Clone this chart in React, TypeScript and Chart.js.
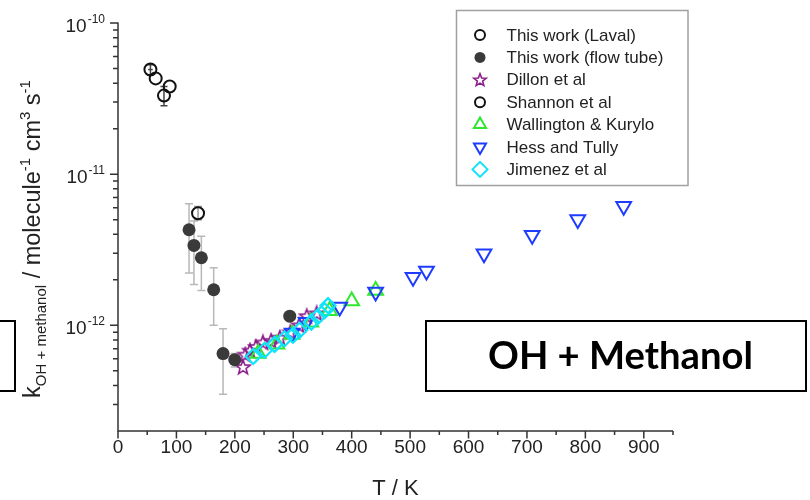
import React, { useEffect, useRef } from 'react';
import { Chart, registerables } from 'chart.js';

Chart.register(...registerables);

const FONT = '"Liberation Sans", Arial, sans-serif';

// ---------- Data ----------
const lavalT = [55.5, 64.5, 78.7, 88.5];
const lavalK = [4.92e-11, 4.3e-11, 3.31e-11, 3.8e-11];
const lavalLow = [4.55e-11, 4.3e-11, 2.84e-11, 3.8e-11];
const lavalHigh = [5.3e-11, 4.3e-11, 3.8e-11, 3.8e-11];
const lavalTErr = [4, 0, 0, 0];

const flowT = [121.6, 130, 142.7, 163.8, 179.8, 199.8, 294];
const flowK = [4.29e-12, 3.38e-12, 2.8e-12, 1.72e-12, 6.5e-13, 5.93e-13, 1.15e-12];
const flowLow = [2.22e-12, 1.86e-12, 1.7e-12, 1.0e-12, 3.5e-13, 5.3e-13, 1.15e-12];
const flowHigh = [6.37e-12, 4.9e-12, 3.89e-12, 2.4e-12, 9.5e-13, 6.5e-13, 1.15e-12];

const dillonT = [214, 218, 226, 236, 248, 262, 277, 295, 310, 323, 340];
const dillonK = [5.3e-13, 6.4e-13, 6.8e-13, 7.2e-13, 7.7e-13, 7.9e-13, 8.3e-13, 9.0e-13, 1.0e-12, 1.15e-12, 1.2e-12];

const shannonT = [137];
const shannonK = [5.52e-12];
const shannonLow = [5.0e-12];
const shannonHigh = [6.1e-12];

const wallT = [240, 272, 298, 330, 362, 400, 441];
const wallK = [6.5e-13, 7.5e-13, 8.7e-13, 1.05e-12, 1.25e-12, 1.45e-12, 1.7e-12];

const hessT = [298, 322, 379.5, 441, 505, 528, 626.5, 709, 787, 865.6];
const hessK = [8.9e-13, 1.05e-12, 1.32e-12, 1.66e-12, 2.08e-12, 2.29e-12, 2.98e-12, 3.94e-12, 5.02e-12, 6.14e-12];

const jimT = [231.6, 251, 268, 285, 299.6, 311, 331, 342, 353.8, 359.5];
const jimK = [6.23e-13, 6.84e-13, 7.48e-13, 8.16e-13, 8.59e-13, 9.27e-13, 1.05e-12, 1.14e-12, 1.25e-12, 1.35e-12];

// ---------- Axis ticks / labels ----------
const xMajorTicks = [0, 100, 200, 300, 400, 500, 600, 700, 800, 900];
const xMinorTicks = [50, 150, 250, 350, 450, 550, 650, 750, 850, 950];
const yMajorTicks = [1e-12, 1e-11, 1e-10];
const yTickExponents = ['-12', '-11', '-10'];
const yMinorTicks = [
  3e-13, 4e-13, 5e-13, 6e-13, 7e-13, 8e-13, 9e-13,
  2e-12, 3e-12, 4e-12, 5e-12, 6e-12, 7e-12, 8e-12, 9e-12,
  2e-11, 3e-11, 4e-11, 5e-11, 6e-11, 7e-11, 8e-11, 9e-11,
];
const xTitle = 'T / K';
const yTitleParts: { t: string; s: 'n' | 'sub' | 'sup' }[] = [
  { t: 'k', s: 'n' },
  { t: 'OH + methanol', s: 'sub' },
  { t: ' / molecule', s: 'n' },
  { t: '-1', s: 'sup' },
  { t: ' cm', s: 'n' },
  { t: '3', s: 'sup' },
  { t: ' s', s: 'n' },
  { t: '-1', s: 'sup' },
];
const boxLabel = 'OH + Methanol';

const legendLabels = [
  'This work (Laval)',
  'This work (flow tube)',
  'Dillon et al',
  'Shannon et al',
  'Wallington & Kurylo',
  'Hess and Tully',
  'Jimenez et al',
];

const C_BLACK = '#111111';
const C_FLOW = '#3a3a3a';
const C_PURPLE = '#8b1c8b';
const C_GREEN = '#2ee82e';
const C_BLUE = '#1e3cff';
const C_CYAN = '#10e4fa';

function makeStar(color: string, size = 18, outer = 7.5, inner = 3.2, lw = 1.6) {
  const c = document.createElement('canvas');
  c.width = size;
  c.height = size;
  const ctx = c.getContext('2d')!;
  starPath(ctx, size / 2, size / 2 + 0.5, outer, inner);
  ctx.strokeStyle = color;
  ctx.lineWidth = lw;
  ctx.stroke();
  return c;
}

function starPath(ctx: CanvasRenderingContext2D, cx: number, cy: number, outer: number, inner: number) {
  ctx.beginPath();
  for (let i = 0; i < 10; i++) {
    const r = i % 2 === 0 ? outer : inner;
    const a = -Math.PI / 2 + (i * Math.PI) / 5;
    const x = cx + r * Math.cos(a);
    const y = cy + r * Math.sin(a);
    if (i === 0) ctx.moveTo(x, y);
    else ctx.lineTo(x, y);
  }
  ctx.closePath();
}

function pts(xs: number[], ys: number[]) {
  return xs.map((x, i) => ({ x, y: ys[i] }));
}

function drawLegendMarker(ctx: CanvasRenderingContext2D, kind: string, x: number, y: number, color: string) {
  ctx.save();
  ctx.lineWidth = 2;
  ctx.strokeStyle = color;
  ctx.fillStyle = color;
  ctx.beginPath();
  if (kind === 'circle') {
    ctx.arc(x, y, 5, 0, Math.PI * 2);
    ctx.stroke();
  } else if (kind === 'fcircle') {
    ctx.arc(x, y, 5.5, 0, Math.PI * 2);
    ctx.fill();
  } else if (kind === 'star') {
    starPath(ctx, x, y + 0.5, 6.5, 2.8);
    ctx.lineWidth = 1.6;
    ctx.stroke();
  } else if (kind === 'up') {
    const r = 7;
    ctx.moveTo(x, y - r);
    ctx.lineTo(x + r * Math.sin((2 * Math.PI) / 3), y - r * Math.cos((2 * Math.PI) / 3));
    ctx.lineTo(x - r * Math.sin((2 * Math.PI) / 3), y - r * Math.cos((2 * Math.PI) / 3));
    ctx.closePath();
    ctx.stroke();
  } else if (kind === 'down') {
    const r = 7;
    ctx.moveTo(x, y + r);
    ctx.lineTo(x + r * Math.sin((2 * Math.PI) / 3), y + r * Math.cos((2 * Math.PI) / 3));
    ctx.lineTo(x - r * Math.sin((2 * Math.PI) / 3), y + r * Math.cos((2 * Math.PI) / 3));
    ctx.closePath();
    ctx.stroke();
  } else if (kind === 'diamond') {
    const r = 7.5;
    ctx.moveTo(x, y - r);
    ctx.lineTo(x + r, y);
    ctx.lineTo(x, y + r);
    ctx.lineTo(x - r, y);
    ctx.closePath();
    ctx.stroke();
  }
  ctx.restore();
}

const legendKinds = ['circle', 'fcircle', 'star', 'circle', 'up', 'down', 'diamond'];
const legendColors = [C_BLACK, C_FLOW, C_PURPLE, C_BLACK, C_GREEN, C_BLUE, C_CYAN];

export default function App() {
  const ref = useRef<HTMLCanvasElement | null>(null);

  useEffect(() => {
    document.body.style.margin = '0';
    const canvas = ref.current;
    if (!canvas) return;
    const star = makeStar(C_PURPLE);

    const overlay = {
      id: 'overlay',
      beforeDatasetsDraw(chart: any) {
        const ctx: CanvasRenderingContext2D = chart.ctx;
        const xs = chart.scales.x;
        const ys = chart.scales.y;
        const bars = (T: number[], lo: number[], hi: number[], color: string, cap: number) => {
          ctx.save();
          ctx.strokeStyle = color;
          ctx.lineWidth = 1.5;
          T.forEach((t, i) => {
            const px = xs.getPixelForValue(t);
            const a = ys.getPixelForValue(lo[i]);
            const b = ys.getPixelForValue(hi[i]);
            if (Math.abs(a - b) < 1) return;
            ctx.beginPath();
            ctx.moveTo(px, a);
            ctx.lineTo(px, b);
            ctx.moveTo(px - cap, a);
            ctx.lineTo(px + cap, a);
            ctx.moveTo(px - cap, b);
            ctx.lineTo(px + cap, b);
            ctx.stroke();
          });
          ctx.restore();
        };
        bars(flowT, flowLow, flowHigh, '#b8b8b8', 4);
        bars(lavalT, lavalLow, lavalHigh, '#444444', 3.5);
        bars(shannonT, shannonLow, shannonHigh, '#9a9a9a', 4);
        ctx.save();
        ctx.strokeStyle = '#444444';
        ctx.lineWidth = 1.5;
        lavalT.forEach((t, i) => {
          if (!lavalTErr[i]) return;
          const py = ys.getPixelForValue(lavalK[i]);
          const a = xs.getPixelForValue(t - lavalTErr[i]);
          const b = xs.getPixelForValue(t + lavalTErr[i]);
          ctx.beginPath();
          ctx.moveTo(a, py);
          ctx.lineTo(b, py);
          ctx.stroke();
        });
        ctx.restore();
      },
      afterDraw(chart: any) {
        const ctx: CanvasRenderingContext2D = chart.ctx;
        const xs = chart.scales.x;
        const ys = chart.scales.y;
        const area = chart.chartArea;
        ctx.save();
        ctx.strokeStyle = '#333333';
        ctx.lineWidth = 1.5;
        ctx.beginPath();
        ctx.moveTo(area.left, area.top - 0.5);
        ctx.lineTo(area.left, area.bottom);
        ctx.lineTo(area.right, area.bottom);
        ctx.stroke();
        ctx.beginPath();
        xMajorTicks.forEach((v) => {
          const p = xs.getPixelForValue(v);
          ctx.moveTo(p, area.bottom);
          ctx.lineTo(p, area.bottom + 7.5);
        });
        xMinorTicks.forEach((v) => {
          const p = xs.getPixelForValue(v);
          ctx.moveTo(p, area.bottom);
          ctx.lineTo(p, area.bottom + 4);
        });
        yMajorTicks.forEach((v) => {
          const p = ys.getPixelForValue(v);
          ctx.moveTo(area.left, p);
          ctx.lineTo(area.left - 8, p);
        });
        yMinorTicks.forEach((v) => {
          const p = ys.getPixelForValue(v);
          ctx.moveTo(area.left, p);
          ctx.lineTo(area.left - 5, p);
        });
        ctx.stroke();

        ctx.fillStyle = '#222222';
        ctx.font = `19px ${FONT}`;
        ctx.textAlign = 'center';
        ctx.textBaseline = 'alphabetic';
        xMajorTicks.forEach((v) => {
          ctx.fillText(String(v), xs.getPixelForValue(v), area.bottom + 21.5);
        });

        yMajorTicks.forEach((v, i) => {
          const p = ys.getPixelForValue(v);
          ctx.textAlign = 'right';
          ctx.font = `12px ${FONT}`;
          const supW = ctx.measureText(yTickExponents[i]).width;
          const right = area.left - 13;
          ctx.fillText(yTickExponents[i], right, p - 0.5);
          ctx.font = `19px ${FONT}`;
          ctx.fillText('10', right - supW - 1, p + 8.5);
        });

        ctx.font = `22px ${FONT}`;
        ctx.textAlign = 'center';
        ctx.fillText(xTitle, (area.left + area.right) / 2, 495);

        ctx.save();
        const cy = (area.top + area.bottom) / 2 + 12;
        ctx.translate(40, cy);
        ctx.rotate(-Math.PI / 2);
        const fontFor = (s: string) => (s === 'n' ? `23.5px ${FONT}` : `15px ${FONT}`);
        let total = 0;
        yTitleParts.forEach((p) => {
          ctx.font = fontFor(p.s);
          total += ctx.measureText(p.t).width;
        });
        let xx = -total / 2;
        ctx.textAlign = 'left';
        yTitleParts.forEach((p) => {
          ctx.font = fontFor(p.s);
          const dy = p.s === 'sub' ? 5.5 : p.s === 'sup' ? -10.5 : 0;
          ctx.fillText(p.t, xx, dy);
          xx += ctx.measureText(p.t).width;
        });
        ctx.restore();

        ctx.strokeStyle = '#a0a0a0';
        ctx.lineWidth = 1.5;
        ctx.strokeRect(456.5, 10.5, 231.5, 175);
        ctx.font = `17px ${FONT}`;
        ctx.textAlign = 'left';
        ctx.textBaseline = 'middle';
        legendLabels.forEach((lab, i) => {
          const y = 35 + i * 22.4;
          drawLegendMarker(ctx, legendKinds[i], 480, y, legendColors[i]);
          ctx.fillStyle = '#222222';
          ctx.fillText(lab, 506.5, y + 1);
        });

        ctx.strokeStyle = '#000000';
        ctx.lineWidth = 2;
        ctx.strokeRect(426, 321, 380, 70);
        ctx.strokeRect(-10, 321, 25, 70);
        ctx.font = `bold 100px Lato, "Open Sans", sans-serif`;
        const w100 = ctx.measureText(boxLabel).width;
        const fs = (265 / w100) * 100;
        ctx.font = `bold ${fs}px Lato, "Open Sans", sans-serif`;
        ctx.fillStyle = '#000000';
        ctx.textAlign = 'center';
        ctx.textBaseline = 'middle';
        ctx.fillText(boxLabel, 620.5, 357);
        ctx.restore();
      },
    };

    const chart = new Chart(canvas, {
      type: 'scatter',
      data: {
        datasets: [
          {
            label: legendLabels[1],
            data: pts(flowT, flowK),
            pointStyle: 'circle',
            pointRadius: 6.5,
            backgroundColor: C_FLOW,
            borderColor: C_FLOW,
            borderWidth: 0,
            order: 0,
          },
          {
            label: legendLabels[6],
            data: pts(jimT, jimK),
            pointStyle: 'rectRot',
            pointRadius: 7.5,
            backgroundColor: 'rgba(0,0,0,0)',
            borderColor: C_CYAN,
            borderWidth: 2.2,
            order: 1,
          },
          {
            label: legendLabels[5],
            data: pts(hessT, hessK),
            pointStyle: 'triangle',
            rotation: 180,
            pointRadius: 8.5,
            backgroundColor: 'rgba(0,0,0,0)',
            borderColor: C_BLUE,
            borderWidth: 2,
            order: 2,
          },
          {
            label: legendLabels[4],
            data: pts(wallT, wallK),
            pointStyle: 'triangle',
            pointRadius: 8.5,
            backgroundColor: 'rgba(0,0,0,0)',
            borderColor: C_GREEN,
            borderWidth: 2,
            order: 3,
          },
          {
            label: legendLabels[2],
            data: pts(dillonT, dillonK),
            pointStyle: star as any,
            pointRadius: 8,
            backgroundColor: 'rgba(0,0,0,0)',
            borderColor: C_PURPLE,
            order: 4,
          },
          {
            label: legendLabels[0],
            data: pts(lavalT, lavalK),
            pointStyle: 'circle',
            pointRadius: 6,
            backgroundColor: 'rgba(0,0,0,0)',
            borderColor: C_BLACK,
            borderWidth: 2,
            order: 5,
          },
          {
            label: legendLabels[3],
            data: pts(shannonT, shannonK),
            pointStyle: 'circle',
            pointRadius: 6,
            backgroundColor: 'rgba(0,0,0,0)',
            borderColor: C_BLACK,
            borderWidth: 2,
            order: 6,
          },
        ] as any,
      },
      options: {
        animation: false,
        responsive: false,
        maintainAspectRatio: false,
        layout: { padding: { left: 118, top: 23, right: 137, bottom: 69 } },
        plugins: { legend: { display: false }, tooltip: { enabled: false } },
        scales: {
          x: { type: 'linear', min: 0, max: 950, display: false },
          y: { type: 'logarithmic', min: 2e-13, max: 1e-10, display: false },
        },
      },
      plugins: [overlay],
    });
    return () => chart.destroy();
  }, []);

  return <canvas ref={ref} width={810} height={500} style={{ display: 'block' }} />;
}
